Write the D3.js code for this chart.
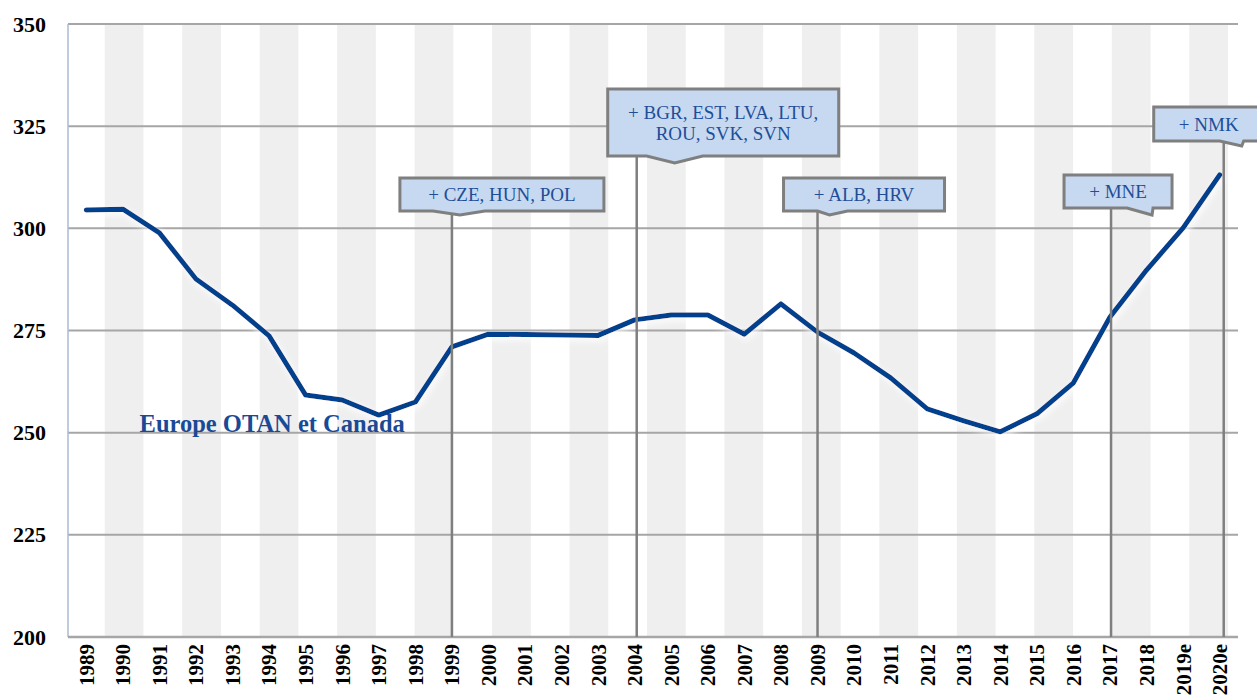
<!DOCTYPE html>
<html>
<head>
<meta charset="utf-8">
<script src="https://cdn.jsdelivr.net/npm/d3@7"></script>
<style>
  body { margin: 0; background: #fff; }
  svg { display: block; }
</style>
</head>
<body>
<div id="chart"></div>
<script>
// data
var years = ["1989","1990","1991","1992","1993","1994","1995","1996","1997","1998",
             "1999","2000","2001","2002","2003","2004","2005","2006","2007","2008",
             "2009","2010","2011","2012","2013","2014","2015","2016","2017","2018",
             "2019e","2020e"];
var values = [304.5, 304.7, 298.9, 287.6, 281.2, 273.7, 259.2, 258.0, 254.3, 257.5,
              271.0, 274.1, 274.0, 273.9, 273.8, 277.6, 278.8, 278.8, 274.1, 281.5,
              274.6, 269.5, 263.4, 255.8, 252.9, 250.2, 254.6, 262.2, 278.3, 289.8,
              300.1, 313.1];
var yTicks = [200, 225, 250, 275, 300, 325, 350];
var seriesName = "Europe OTAN et Canada";

// accession callouts
var accessionYears = ["1999", "2004", "2009", "2017", "2020e"];
var accessionLabels = [
  ["+ CZE, HUN, POL"],
  ["+ BGR, EST, LVA, LTU,", "ROU, SVK, SVN"],
  ["+ ALB, HRV"],
  ["+ MNE"],
  ["+ NMK"]
];
// box layout relative to the year line (pixels)
var calloutLayout = [
  {dx: -52, w: 204, top: 178, h: 33, n0: -19, tip: 8,  n1: 33, depth: 4, lx: 0},
  {dx: -27, w: 231, top: 89,  h: 67, n0: 12,  tip: 40, n1: 68, depth: 7, lx: 2},
  {dx: -34, w: 161, top: 178, h: 33, n0: 0,   tip: 12, n1: 30, depth: 4, lx: 0},
  {dx: -46, w: 108, top: 175, h: 33, n0: 17,  tip: 42, n1: 43, depth: 7, lx: 1},
  {dx: -66, w: 110, top: 107, h: 34, n0: 0,   tip: 22, n1: 24, depth: 5, lx: 4}
];

var W = 1257, H = 700;
var margin = {top: 24, right: 19, bottom: 63, left: 68};
var innerWidth = W - margin.left - margin.right;
var innerHeight = H - margin.top - margin.bottom;

var svg = d3.select("#chart").append("svg")
    .attr("width", W)
    .attr("height", H);

var defs = svg.append("defs");
var glow = defs.append("filter").attr("id", "glow")
    .attr("x", "-5%").attr("y", "-20%").attr("width", "110%").attr("height", "140%");
glow.append("feDropShadow")
    .attr("dx", 2).attr("dy", 3).attr("stdDeviation", 3)
    .attr("flood-color", "#ffffff").attr("flood-opacity", 1);

var g = svg.append("g")
    .attr("transform", "translate(" + margin.left + "," + margin.top + ")");

var xScale = d3.scaleBand()
    .domain(years)
    .range([0, innerWidth]);

var yScale = d3.scaleLinear()
    .domain([200, 350])
    .range([innerHeight, 0]);

// alternating background bands (30 bands, 1989-2018)
var shadeScale = d3.scaleBand()
    .domain(years.slice(0, 30))
    .range([-2, innerWidth - 10]);

g.append("g").selectAll("rect")
    .data(years.slice(0, 30).filter(function(d, i) { return i % 2 === 1; }))
    .join("rect")
    .attr("x", function(d) { return shadeScale(d); })
    .attr("y", 0)
    .attr("width", shadeScale.bandwidth())
    .attr("height", innerHeight)
    .attr("fill", "#efefef");

// gridlines
g.append("g").selectAll("line")
    .data(yTicks)
    .join("line")
    .attr("x1", 0)
    .attr("x2", innerWidth)
    .attr("y1", function(d) { return yScale(d); })
    .attr("y2", function(d) { return yScale(d); })
    .attr("stroke", "#a6a6a6")
    .attr("stroke-width", 2);

// left axis line
g.append("line")
    .attr("x1", 0).attr("x2", 0)
    .attr("y1", 0).attr("y2", innerHeight)
    .attr("stroke", "#a9bbd3")
    .attr("stroke-width", 1.5);

// y axis labels
const yAxis = d3.axisLeft(yScale).tickValues(yTicks).tickSize(0).tickPadding(22);
const yAxisGroup = g.append("g").call(yAxis);
yAxisGroup.select(".domain").remove();
yAxisGroup.selectAll("text")
    .attr("font-family", "'Liberation Serif', 'Times New Roman', serif")
    .attr("font-weight", "bold")
    .attr("font-size", "22px")
    .attr("fill", "#000");

// x axis labels (rotated)
g.append("g").selectAll("text")
    .data(years)
    .join("text")
    .attr("transform", function(d) {
        return "translate(" + (xScale(d) + xScale.bandwidth() / 2) + "," + (innerHeight + 7) + ") rotate(-90)";
    })
    .attr("text-anchor", "end")
    .attr("dy", "0.35em")
    .attr("font-family", "'Liberation Serif', 'Times New Roman', serif")
    .attr("font-weight", "bold")
    .attr("font-size", "21px")
    .attr("fill", "#000")
    .text(function(d) { return d; });

// data line
const line = d3.line()
    .x(function(d, i) { return xScale(years[i]) + xScale.bandwidth() / 2; })
    .y(function(d) { return yScale(d); });

g.append("path")
    .datum(values)
    .attr("d", line)
    .attr("fill", "none")
    .attr("stroke", "#003f8c")
    .attr("stroke-width", 5)
    .attr("stroke-linejoin", "round")
    .attr("stroke-linecap", "round")
    .attr("filter", "url(#glow)");

// series label
g.append("text")
    .attr("x", xScale("1990") + 35)
    .attr("y", yScale(250) - 1)
    .attr("font-family", "'Liberation Serif', 'Times New Roman', serif")
    .attr("font-weight", "bold")
    .attr("font-size", "24.5px")
    .attr("fill", "#1a4a96")
    .text(seriesName);

// bottom axis line
g.append("line")
    .attr("x1", 0).attr("x2", innerWidth)
    .attr("y1", innerHeight).attr("y2", innerHeight)
    .attr("stroke", "#a6a6a6")
    .attr("stroke-width", 2.5);

// callouts
accessionYears.forEach(function(yr, i) {
    var lay = calloutLayout[i];
    var cx = xScale(yr) + xScale.bandwidth() / 2;
    var lx = cx + lay.lx;
    var x0 = cx + lay.dx;
    var x1 = x0 + lay.w;
    var y0 = lay.top - margin.top;
    var y1 = y0 + lay.h;

    // leader line down to the axis
    g.append("line")
        .attr("x1", lx).attr("x2", lx)
        .attr("y1", y1).attr("y2", innerHeight)
        .attr("stroke", "#7f7f7f")
        .attr("stroke-width", 2.5);

    var p = d3.path();
    p.moveTo(x0, y0);
    p.lineTo(x1, y0);
    p.lineTo(x1, y1);
    p.lineTo(cx + lay.n1, y1);
    p.lineTo(cx + lay.tip, y1 + lay.depth);
    p.lineTo(cx + lay.n0, y1);
    p.lineTo(x0, y1);
    p.closePath();

    g.append("path")
        .attr("d", p.toString())
        .attr("fill", "#c6d9f0")
        .attr("stroke", "#7f7f7f")
        .attr("stroke-width", 3)
        .attr("stroke-linejoin", "miter");

    var lines = accessionLabels[i];
    var lh = 21;
    var midY = (y0 + y1) / 2;
    lines.forEach(function(t, j) {
        g.append("text")
            .attr("x", (x0 + x1) / 2)
            .attr("y", midY + (j - (lines.length - 1) / 2) * lh)
            .attr("dy", "0.35em")
            .attr("text-anchor", "middle")
            .attr("font-family", "'Liberation Serif', 'Times New Roman', serif")
            .attr("font-size", "19px")
            .attr("fill", "#1f4e99")
            .text(t);
    });
});
</script>
</body>
</html>
